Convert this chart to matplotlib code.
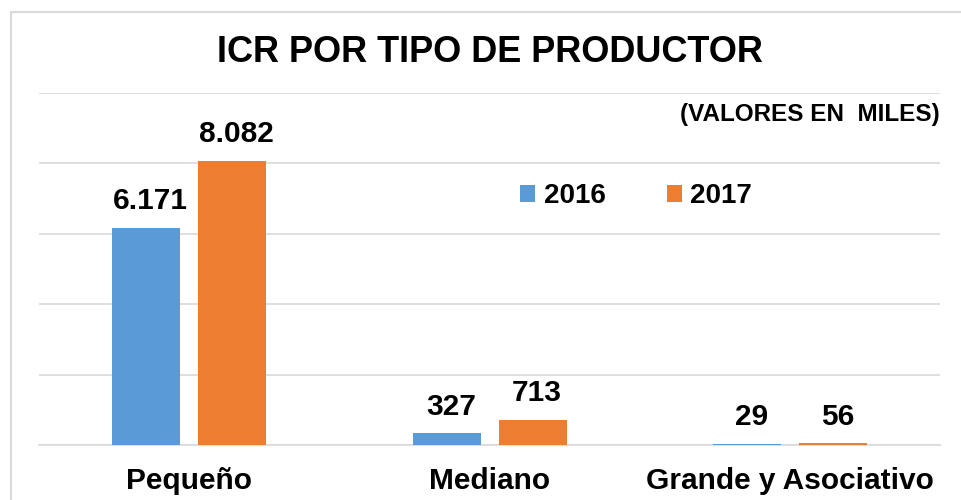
import numpy as np
import matplotlib.pyplot as plt
from matplotlib.patches import Rectangle

categorias = ['Pequeño', 'Mediano', 'Grande y Asociativo']
valores_2016 = [6171, 327, 29]
valores_2017 = [8082, 713, 56]
etiquetas_2016 = ['6.171', '327', '29']
etiquetas_2017 = ['8.082', '713', '56']
series = ['2016', '2017']

azul = '#5B9BD5'
naranja = '#ED7D31'

plt.rcParams['font.family'] = ['Liberation Sans', 'DejaVu Sans']
plt.rcParams['font.weight'] = 'bold'

fig = plt.figure(figsize=(9.61, 5.0), dpi=100)
ax = fig.add_axes([0.0406, 0.11, 0.938, 0.704])

# marco exterior del grafico
fig.patches.append(Rectangle((11/961, -0.1), 2, 1.1 - 12/500, transform=fig.transFigure,
                             fill=False, edgecolor='#d9d9d9', linewidth=1.5, zorder=0))

x = np.arange(len(categorias))
w = 0.226
off = 0.143
b1 = ax.bar(x - off, valores_2016, w, color=azul, label=series[0], zorder=3)
b2 = ax.bar(x + off, valores_2017, w, color=naranja, label=series[1], zorder=3)

for rect, txt in zip(b1, etiquetas_2016):
    ax.annotate(txt, (rect.get_x() + rect.get_width()/2, rect.get_height()),
                xytext=(3, 9), textcoords='offset points', ha='center', va='bottom',
                fontsize=21.5, fontweight='bold')
for rect, txt in zip(b2, etiquetas_2017):
    ax.annotate(txt, (rect.get_x() + rect.get_width()/2, rect.get_height()),
                xytext=(3, 9), textcoords='offset points', ha='center', va='bottom',
                fontsize=21.5, fontweight='bold')

ax.set_xlim(-0.5, 2.5)
ax.set_ylim(0, 10000)
ax.set_yticks(np.arange(0, 10001, 2000))
ax.yaxis.grid(True, color='#d9d9d9', linewidth=1.2, zorder=0)
ax.tick_params(axis='y', left=False, labelleft=False)
ax.tick_params(axis='x', bottom=False, labelsize=21.5, pad=12)
ax.set_xticks(x)
ax.set_xticklabels(categorias, fontweight='bold')
for s in ['top', 'right', 'left']:
    ax.spines[s].set_visible(False)
ax.spines['bottom'].set_color('#d9d9d9')
ax.spines['bottom'].set_linewidth(1.2)

fig.text(0.51, 1 - 52/500, 'ICR POR TIPO DE PRODUCTOR', ha='center', va='center',
         fontsize=26, fontweight='bold')
fig.text(0.978, 1 - 114/500, '(VALORES EN  MILES)', ha='right', va='center',
         fontsize=17.5, fontweight='bold')

leg = ax.legend(loc='center', bbox_to_anchor=(636/961, 1 - 196/500), bbox_transform=fig.transFigure,
                ncol=2, frameon=False, fontsize=20, handlelength=0.55, handleheight=0.55,
                handletextpad=0.3, columnspacing=2.2)

fig.savefig('out.png', dpi=100)
